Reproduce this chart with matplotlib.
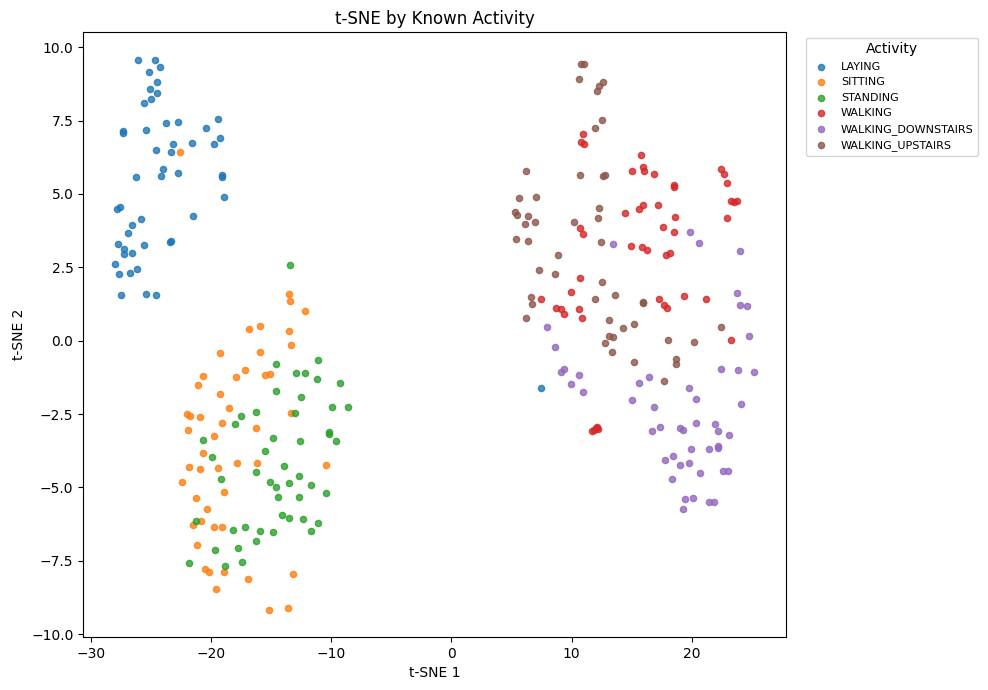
import matplotlib
matplotlib.use('Agg')
import matplotlib.pyplot as plt

ACTIVITIES = ['LAYING', 'SITTING', 'STANDING', 'WALKING',
              'WALKING_DOWNSTAIRS', 'WALKING_UPSTAIRS']

# t-SNE coordinates, one pair of lists per activity
laying_x = [-26.07, -24.66, -24.24, -25.16, -24.49, -25.07, -24.49, -24.99, -25.57, -23.75,
            -22.75, -19.43, -27.32, -27.32, -25.41, -20.42, -19.26, -23.16, -21.59, -19.76,
            -24.58, -23.33, -24.00, -22.75, -24.16, -26.24, -19.06, -19.12, -18.93, -27.84,
            -27.57, -21.50, -25.82, -26.57, -26.90, -27.73, -27.23, -27.23, -26.57, -25.57,
            -23.36, -23.44, -27.98, -27.65, -26.74, -26.15, -27.48, -25.41, -24.58, 7.48]
laying_y = [9.58, 9.55, 9.31, 9.14, 8.80, 8.56, 8.45, 8.22, 8.11, 7.41,
            7.46, 7.57, 7.16, 7.09, 7.19, 7.23, 6.92, 6.71, 6.75, 6.71,
            6.51, 6.44, 5.84, 5.72, 5.62, 5.57, 5.64, 5.57, 4.91, 4.49,
            4.56, 4.26, 4.15, 3.95, 3.68, 3.30, 3.13, 2.96, 2.99, 3.27,
            3.39, 3.35, 2.62, 2.28, 2.31, 2.45, 1.56, 1.59, 1.56, -1.61]

sitting_x = [-22.58, -16.85, -15.94, -19.26, -15.94, -20.67, -17.93, -17.18, -15.52, -15.13,
             -21.09, -19.26, -18.51, -22.03, -21.75, -20.92, -19.10, -16.27, -21.92, -19.76,
             -13.53, -13.45, -12.20, -13.53, -13.36, -13.36, -20.67, -21.84, -20.92, -19.43,
             -17.85, -16.19, -22.42, -18.93, -21.25, -20.34, -20.84, -21.50, -19.76, -19.10,
             -21.17, -20.51, -20.17, -18.93, -16.94, -19.59, -10.46, -13.20, -15.22, -13.61]
sitting_y = [6.44, 0.41, 0.50, -0.42, -0.39, -1.20, -1.24, -1.00, -1.17, -1.14,
             -1.51, -1.82, -2.30, -2.49, -2.57, -2.60, -2.81, -2.97, -3.04, -3.24,
             1.59, 1.35, 1.01, 0.33, -0.14, -2.47, -3.83, -4.31, -4.38, -4.34,
             -4.17, -4.17, -4.82, -5.16, -5.37, -5.74, -6.15, -6.29, -6.36, -6.36,
             -6.97, -7.79, -7.89, -7.89, -8.13, -8.47, -4.24, -7.96, -9.16, -9.12]

standing_x = [-16.27, -17.54, -18.01, -13.45, -14.61, -11.12, -12.95, -12.20, -11.20, -9.29,
              -14.61, -12.53, -9.96, -8.63, -13.03, -10.21, -10.21, -20.67, -19.93, -15.52,
              -16.27, -19.18, -21.25, -18.18, -17.18, -15.94, -19.68, -17.77, -16.27, -21.84,
              -18.85, -17.43, -14.86, -12.62, -9.63, -13.95, -12.70, -15.11, -14.61, -13.53,
              -11.70, -10.46, -14.44, -12.70, -14.11, -13.53, -12.37, -11.12, -11.70, -14.86]
standing_y = [-2.42, -2.57, -2.84, 2.58, -0.80, -0.66, -1.10, -1.10, -1.31, -1.44,
              -1.72, -1.92, -2.26, -2.26, -2.47, -3.12, -3.18, -3.39, -3.97, -3.76,
              -4.48, -4.72, -6.15, -6.46, -6.36, -6.50, -7.14, -7.08, -6.84, -7.59,
              -7.69, -7.55, -3.32, -3.42, -3.42, -4.28, -4.62, -4.82, -4.99, -4.86,
              -4.93, -5.20, -5.33, -5.33, -5.95, -6.05, -6.09, -6.22, -6.50, -6.53]

walking_x = [10.97, 10.81, 11.06, 15.79, 15.04, 15.96, 16.04, 16.87, 18.53, 18.53,
             22.43, 22.68, 22.93, 23.26, 23.51, 23.76, 15.96, 15.62, 14.46, 10.72,
             10.97, 14.96, 10.72, 9.98, 7.48, 8.73, 9.14, 9.39, 10.64, 10.89,
             17.20, 18.61, 17.62, 18.53, 15.87, 16.29, 17.87, 18.20, 22.93, 17.28,
             17.70, 17.95, 19.36, 21.19, 23.26, 11.72, 11.99, 12.11, 12.22, 11.86]
walking_y = [7.05, 6.78, 6.71, 6.34, 5.79, 5.93, 5.79, 5.69, 5.31, 5.25,
             5.86, 5.69, 5.38, 4.77, 4.73, 4.77, 4.63, 4.49, 4.36, 3.85,
             3.64, 3.23, 2.14, 1.66, 1.42, 1.12, 1.08, 0.91, 1.08, 0.77,
             4.63, 4.22, 3.88, 3.71, 3.20, 3.10, 2.92, 2.99, 4.19, 1.42,
             1.22, 1.12, 1.53, 1.42, 0.02, -3.08, -2.99, -2.94, -3.01, -3.04]

down_x = [13.46, 7.98, 8.65, 19.86, 20.61, 24.01, 23.76, 24.01, 24.59, 24.76,
          9.39, 9.14, 10.64, 9.98, 10.97, 15.62, 14.99, 16.45, 16.87, 19.78,
          20.36, 22.43, 23.85, 25.17, 24.09, 16.70, 17.37, 19.03, 19.28, 20.36,
          21.93, 22.18, 23.10, 19.94, 21.44, 22.18, 22.18, 17.78, 18.45, 19.03,
          19.78, 20.69, 22.60, 23.02, 18.36, 19.44, 20.11, 21.44, 21.85, 19.28]
down_y = [3.30, 0.47, -0.22, 3.71, 3.33, 3.06, 1.63, 1.22, 1.18, 0.16,
          -0.97, -1.07, -1.17, -1.48, -1.75, -1.44, -2.02, -1.24, -2.26, -1.61,
          -1.99, -0.97, -1.00, -1.07, -2.16, -3.08, -2.95, -2.98, -3.05, -2.81,
          -2.84, -3.08, -3.22, -3.70, -3.70, -3.59, -3.66, -4.07, -3.94, -4.24,
          -4.17, -4.52, -4.45, -4.45, -4.72, -5.40, -5.37, -5.51, -5.51, -5.74]

up_x = [10.81, 11.06, 10.64, 12.63, 12.30, 12.13, 12.55, 11.97, 6.24, 10.72,
        12.63, 12.80, 5.66, 7.07, 5.32, 5.49, 6.40, 6.15, 6.99, 12.30,
        12.22, 10.22, 5.41, 6.40, 12.47, 8.90, 7.32, 8.65, 12.55, 13.63,
        6.65, 6.74, 11.97, 6.24, 13.13, 15.21, 14.29, 13.13, 13.46, 12.80,
        13.38, 15.96, 15.96, 22.43, 18.03, 20.19, 15.21, 18.70, 18.70, 17.70]
up_y = [9.44, 9.44, 8.93, 8.80, 8.69, 8.52, 7.53, 7.26, 5.79, 5.66,
        5.62, 5.66, 4.87, 4.90, 4.39, 4.29, 4.26, 3.98, 4.05, 4.53,
        4.19, 4.05, 3.47, 3.40, 3.37, 2.92, 2.41, 2.28, 2.00, 1.56,
        1.49, 1.25, 1.42, 0.77, 0.71, 0.57, 0.43, 0.16, 0.13, -0.08,
        -0.37, 1.27, 1.33, 0.47, 0.02, -0.04, -0.73, -0.62, -0.80, -1.38]

xs = [laying_x, sitting_x, standing_x, walking_x, down_x, up_x]
ys = [laying_y, sitting_y, standing_y, walking_y, down_y, up_y]

fig = plt.figure(figsize=(9.88, 6.9), dpi=100)
ax = fig.add_subplot(111)

for label, x, y in zip(ACTIVITIES, xs, ys):
    ax.scatter(x, y, s=20, alpha=0.8, label=label)

ax.set_title('t-SNE by Known Activity')
ax.set_xlabel('t-SNE 1')
ax.set_ylabel('t-SNE 2')
ax.legend(title='Activity', fontsize=8, bbox_to_anchor=(1.02, 1), loc='upper left')

fig.subplots_adjust(left=0.0842, right=0.7955, top=0.9536, bottom=0.0768)
fig.savefig('out.png', dpi=100)
